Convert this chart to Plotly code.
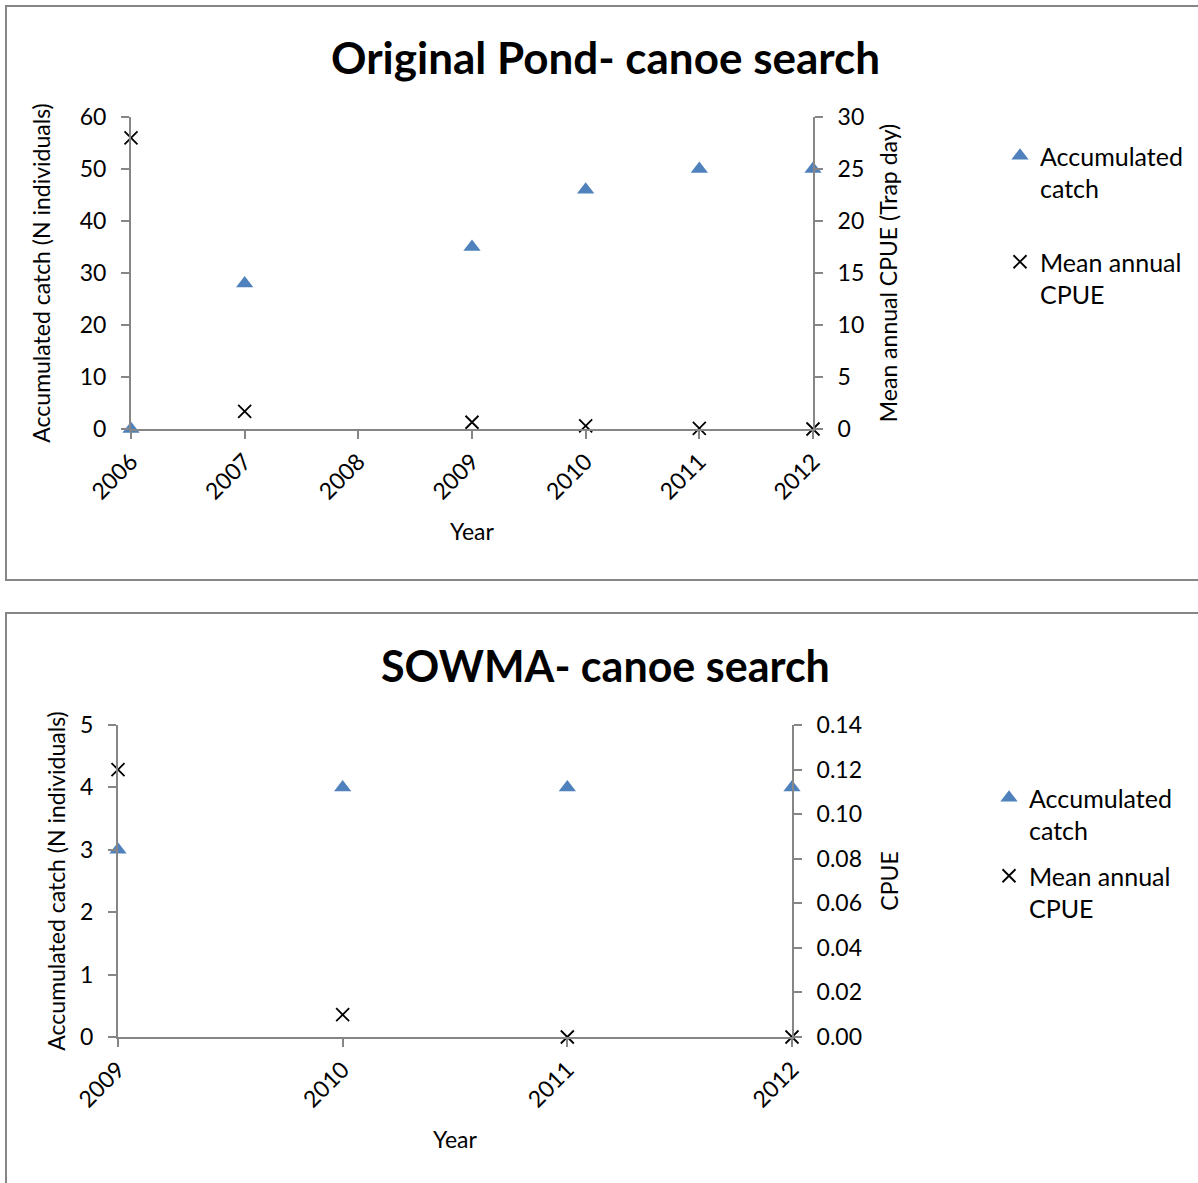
import plotly.graph_objects as go

W, H = 1198, 1183

# ---- data ----
years_top = [2006, 2007, 2009, 2010, 2011, 2012]
acc_top = [0, 28, 35, 46, 50, 50]
cpue_top = [28, 1.7, 0.65, 0.3, 0.05, 0]
xticks_top = [2006, 2007, 2008, 2009, 2010, 2011, 2012]

years_bot = [2009, 2010, 2011, 2012]
acc_bot = [3, 4, 4, 4]
cpue_bot = [0.12, 0.01, 0, 0]
xticks_bot = [2009, 2010, 2011, 2012]

title_top = "Original Pond- canoe search"
title_bot = "SOWMA- canoe search"

FONT = "Lato, 'Open Sans', sans-serif"
BLUE = "#4F81BD"
AX = "#868686"

def px(x):
    return x / W

def py(y):
    return 1 - y / H

fig = go.Figure()

tri = dict(symbol="triangle-up", size=15, color=BLUE)
xm = dict(symbol="x-thin", size=13, color="black", line=dict(width=1.8, color="black"))

fig.add_trace(go.Scatter(x=years_top, y=acc_top, mode="markers", marker=tri,
                         name="Accumulated<br>catch", xaxis="x", yaxis="y",
                         cliponaxis=False, legend="legend", legendgroup="a"))
fig.add_trace(go.Scatter(x=years_top, y=cpue_top, mode="markers", marker=xm,
                         name="Mean annual<br>CPUE", xaxis="x", yaxis="y2",
                         cliponaxis=False, legend="legend", legendgroup="b"))
fig.add_trace(go.Scatter(x=years_bot, y=acc_bot, mode="markers", marker=tri,
                         name="Accumulated<br>catch", xaxis="x2", yaxis="y3",
                         cliponaxis=False, legend="legend2", legendgroup="c"))
fig.add_trace(go.Scatter(x=years_bot, y=cpue_bot, mode="markers", marker=xm,
                         name="Mean annual<br>CPUE", xaxis="x2", yaxis="y4",
                         cliponaxis=False, legend="legend2", legendgroup="d"))

tickfont = dict(family=FONT, size=23, color="black")
titlefont = dict(family=FONT, size=23, color="black")
legfont = dict(family=FONT, size=25, color="black")

def xaxis(dom, anchor, ticks):
    return dict(domain=dom, anchor=anchor, range=[ticks[0], ticks[-1]],
                tickvals=ticks, ticktext=[str(t) for t in ticks], tickangle=-45,
                showline=True, linecolor=AX, linewidth=2, ticks="outside",
                ticklen=8, tickcolor=AX, tickwidth=1.5, showgrid=False,
                zeroline=False, tickfont=tickfont, automargin=False,
                title=dict(text="Year", font=titlefont, standoff=20))

def yaxis(dom, anchor, rng, dtick, fmt, side="left", overlay=None, title="", standoff=8):
    d = dict(domain=dom, anchor=anchor, range=rng, dtick=dtick, tickformat=fmt,
             side=side, showline=True, linecolor=AX, linewidth=2, ticks="outside",
             ticklen=8, tickcolor=AX, tickwidth=1.5, showgrid=False, zeroline=False,
             tickfont=tickfont, automargin=False, ticklabelstandoff=10,
             title=dict(text=title, font=titlefont, standoff=standoff))
    if overlay:
        d["overlaying"] = overlay
    return d

xd_top = [px(131), px(813)]
yd_top = [py(429), py(117)]
xd_bot = [px(118), px(792)]
yd_bot = [py(1037), py(725)]

fig.update_layout(
    width=W, height=H, margin=dict(l=0, r=0, t=0, b=0, autoexpand=False),
    paper_bgcolor="white", plot_bgcolor="white",
    font=dict(family=FONT, color="black"),
    xaxis=xaxis(xd_top, "y", xticks_top),
    yaxis=yaxis(yd_top, "x", [0, 60], 10, "d", title="Accumulated catch (N individuals)",
                standoff=23),
    yaxis2=yaxis(yd_top, "x", [0, 30], 5, "d", side="right", overlay="y",
                 title="Mean annual CPUE (Trap day)", standoff=18),
    xaxis2=xaxis(xd_bot, "y3", xticks_bot),
    yaxis3=yaxis(yd_bot, "x2", [0, 5], 1, "d", title="Accumulated catch (N individuals)",
                 standoff=8),
    yaxis4=yaxis(yd_bot, "x2", [0, 0.14], 0.02, ".2f", side="right", overlay="y3",
                 title="CPUE", standoff=21),
    legend=dict(x=px(1000), y=py(133), xanchor="left", yanchor="top",
                font=legfont, valign="top",
                traceorder="grouped", tracegroupgap=38, itemwidth=30,
                bgcolor="rgba(0,0,0,0)"),
    legend2=dict(x=px(989), y=py(775), xanchor="left", yanchor="top",
                 font=legfont, valign="top",
                 traceorder="grouped", tracegroupgap=10, itemwidth=30,
                 bgcolor="rgba(0,0,0,0)"),
    showlegend=True,
    shapes=[
        dict(type="rect", xref="paper", yref="paper", x0=px(6), x1=px(1210),
             y0=py(580), y1=py(6), line=dict(color=AX, width=2), layer="below"),
        dict(type="rect", xref="paper", yref="paper", x0=px(6), x1=px(1210),
             y0=py(1200), y1=py(613), line=dict(color=AX, width=2), layer="below"),
    ],
    annotations=[
        dict(text="<b>%s</b>" % title_top, xref="paper", yref="paper",
             x=px(605), y=py(57), xanchor="center", yanchor="middle",
             showarrow=False, font=dict(family=FONT, size=44, color="black")),
        dict(text="<b>%s</b>" % title_bot, xref="paper", yref="paper",
             x=px(605), y=py(665), xanchor="center", yanchor="middle",
             showarrow=False, font=dict(family=FONT, size=43, color="black")),
    ],
)

fig.write_html("out.html")
